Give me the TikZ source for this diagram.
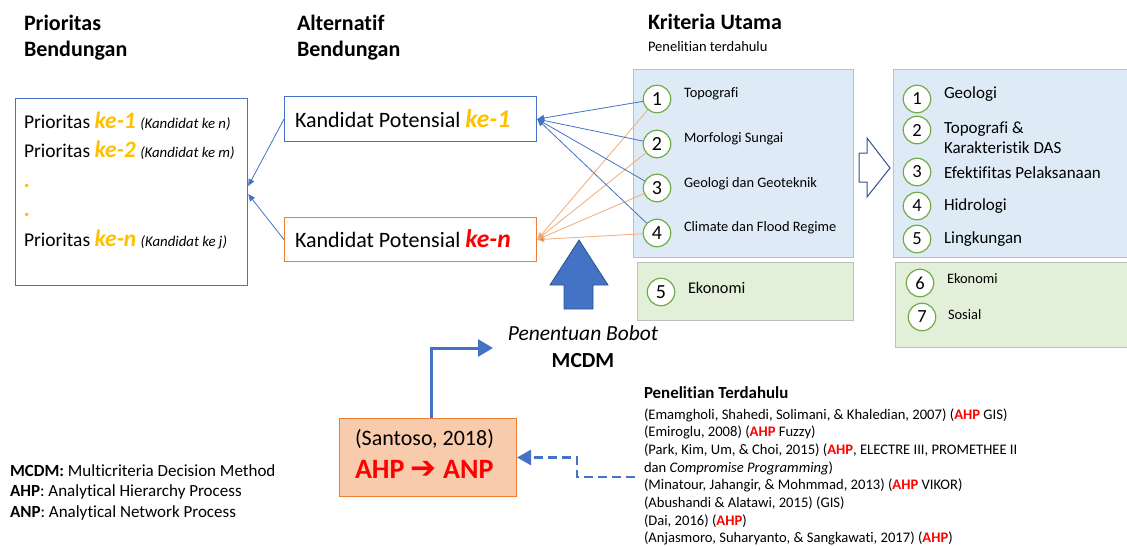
\documentclass[tikz,border=0pt]{standalone}
\usepackage{fontspec}
\setmainfont{Carlito}[Ligatures={NoCommon}]
\newfontfamily\dejavu{DejaVu Sans}
\usetikzlibrary{arrows.meta,calc}
\definecolor{cblue}{HTML}{4472C4}
\definecolor{cdblue}{HTML}{2F528F}
\definecolor{corange}{HTML}{ED7D31}
\definecolor{clorange}{HTML}{F4B183}
\definecolor{cyel}{HTML}{FFC000}
\definecolor{cred}{HTML}{FF0000}
\definecolor{cgreen}{HTML}{70AD47}
\definecolor{cgray}{HTML}{BFBFBF}
\definecolor{cbfill}{HTML}{DEEBF7}
\definecolor{cgfill}{HTML}{E2F0D9}
\definecolor{cpeach}{HTML}{F8CBAD}
\newcommand{\fs}[1]{\fontsize{#1}{#1}\selectfont}
\newcommand{\kyel}[1]{{\fs{23.5}\bfseries\itshape\color{cyel}#1}}
\newcommand{\kand}[1]{{\fs{14.8}\itshape #1}}
\newcommand{\ahp}{{\color{cred}\bfseries AHP}}
\begin{document}
\begin{tikzpicture}[x=1pt,y=-1pt,
  txt/.style={anchor=base west, inner sep=0, outer sep=0},
  hdr/.style={txt, font=\fs{22}\bfseries},
  boxline/.style={txt, font=\fs{19.5}},
  crit/.style={txt, font=\fs{14.4}},
  critb/.style={txt, font=\fs{17}},
  ref/.style={txt, font=\fs{14.6}},
  leg/.style={txt, font=\fs{17}},
  plainbox/.style={draw, inner sep=0, anchor=north west},
  circ/.style={circle, draw=cgreen, line width=1.2, fill=white, minimum size=27.5, inner sep=0, font=\fs{20}},
  circs/.style={circ, font=\fs{18.5}},
  thinb/.style={draw=cblue, line width=0.8, -{Triangle[length=7,width=6]}},
  thino/.style={draw=clorange, line width=0.9, -{Triangle[length=7,width=6]}, arrows={[fill=corange]}},
]
\useasboundingbox (0,0) rectangle (1127,546);

% headers
\node[hdr] (h1a) at (24,30) {Prioritas};
\node[hdr] (h1b) at (24,56.5) {Bendungan};
\node[hdr] (h2a) at (297,30) {Alternatif};
\node[hdr] (h2b) at (297,56.5) {Bendungan};
\node[hdr] (h3a) at (648,29) {Kriteria Utama};
\node[txt, font=\fs{14.5}] (h3b) at (648,51) {Penelitian terdahulu};

% left box
\node[plainbox, draw=cblue, line width=1.2, minimum width=232, minimum height=187] (lb) at (15,98) {};
\node[boxline] (p1) at (24,128) {Prioritas \kyel{ke-1} \kand{(Kandidat ke n)}};
\node[boxline] (p2) at (24,157.5) {Prioritas \kyel{ke-2} \kand{(Kandidat ke m)}};
\node[boxline] (p3) at (24,187) {\kyel{.}};
\node[boxline] (p4) at (24,216.5) {\kyel{.}};
\node[boxline] (p5) at (24,246) {Prioritas \kyel{ke-n} \kand{(Kandidat ke j)}};

% kandidat boxes
\node[plainbox, draw=cblue, line width=1.2, minimum width=252, minimum height=45] (k1) at (284,96) {};
\node[plainbox, draw=corange, line width=1.2, minimum width=252, minimum height=44] (k2) at (284,217) {};
\node[txt, font=\fs{22}] (k1t) at (295,127) {Kandidat Potensial {\fs{25.5}\bfseries\itshape\color{cyel}ke-1}};
\node[txt, font=\fs{22}] (k2t) at (295,247) {Kandidat Potensial {\fs{25.5}\bfseries\itshape\color{cred}ke-n}};

% criteria box
\node[plainbox, draw=cgray, fill=cbfill, line width=1, minimum width=220, minimum height=188] (cb) at (633,69) {};
\node[plainbox, draw=cgray, fill=cgfill, line width=1, minimum width=216, minimum height=58] (eb) at (637,262) {};
\node[circ] (c1) at (657,99) {1};
\node[circ] (c2) at (657,144) {2};
\node[circ] (c3) at (657,188) {3};
\node[circ] (c4) at (657,233) {4};
\node[circ] (c5) at (661,292) {5};
\node[crit] (l1) at (684,97) {Topografi};
\node[crit] (l2) at (684,142) {Morfologi Sungai};
\node[crit] (l3) at (684,187) {Geologi dan Geoteknik};
\node[crit] (l4) at (684,231) {Climate dan Flood Regime};
\node[txt, font=\fs{16.3}] (l5) at (688,293) {Ekonomi};

% connectors criteria -> kandidat
\foreach \c in {c1,c2,c3,c4} {
  \draw[thinb] (\c) -- (k1.east);
  \draw[thino] (\c) -- (k2.east);
}
% kandidat -> left box
\draw[thinb] (k1.west) -- ($(lb.east)+(0,-6)$);
\draw[thinb] (k2.west) -- ($(lb.east)+(0,2)$);

% big up arrow
\draw[fill=cblue, draw=cdblue, line width=0.8] (564,309) -- (564,285) -- (550,285) -- (579,240) -- (608,285) -- (593,285) -- (593,309) -- cycle;

% hollow right arrow
\draw[fill=white, draw=cdblue, line width=1] (859,153) -- (867,153) -- (867,138) -- (890,168) -- (867,197) -- (867,182) -- (859,182) -- cycle;

% right criteria box
\node[plainbox, draw=cgray, fill=cbfill, line width=1, minimum width=245, minimum height=188] (rb) at (893,69) {};
\node[plainbox, draw=cgray, fill=cgfill, line width=1, minimum width=245, minimum height=85] (rg) at (895,262) {};
\node[circs] (d1) at (917,99) {1};
\node[circs] (d2) at (917,130) {2};
\node[circs] (d3) at (917,172) {3};
\node[circs] (d4) at (917,206) {4};
\node[circs] (d5) at (917,239) {5};
\node[circs] (d6) at (920,283) {6};
\node[circs] (d7) at (922,317) {7};
\node[critb] (m1) at (944,98) {Geologi};
\node[critb] (m2a) at (944,133) {Topografi \&};
\node[critb] (m2b) at (944,153) {Karakteristik DAS};
\node[critb] (m3) at (944,178) {Efektifitas Pelaksanaan};
\node[critb] (m4) at (944,210) {Hidrologi};
\node[critb] (m5) at (944,243) {Lingkungan};
\node[crit] (m6) at (947,283) {Ekonomi};
\node[crit] (m7) at (948,319) {Sosial};

% Penentuan Bobot
\node[anchor=base, inner sep=0, font=\fs{21.5}\itshape] (pb) at (583,340) {Penentuan Bobot};
\node[anchor=base, inner sep=0, font=\fs{21.5}\bfseries] (mc) at (583,367) {MCDM};

% AHP box
\node[plainbox, draw=corange, fill=cpeach, line width=1, minimum width=177, minimum height=78] (ab) at (339,418) {};
\node[txt, font=\fs{22}] (s1) at (355,445) {(Santoso, 2018)};
\node[txt, font=\fs{28}\bfseries, text=cred] (s2) at (355,478) {AHP {\dejavu\fs{31}\bfseries ➔} ANP};

\coordinate (mtip) at (493,348);
\draw[cblue, line width=3, -{Triangle[length=15,width=17]}] ($(ab.north)+(3.5,0)$) |- (mtip);

\coordinate (dstart) at (635,477);
\draw[cblue, line width=2.5, dash pattern=on 9 off 5, -{Triangle[length=14,width=15]}] (dstart) -- ++(-58,0) |- (ab.east);

% references
\node[txt, font=\fs{16.9}\bfseries] (rt) at (644,398) {Penelitian Terdahulu};
\node[ref] (r1) at (644,419) {(Emamgholi, Shahedi, Solimani, \& Khaledian, 2007) (\ahp{} GIS)};
\node[ref] (r2) at (644,436.7) {(Emiroglu, 2008) (\ahp{} Fuzzy)};
\node[ref] (r3) at (644,454.4) {(Park, Kim, Um, \& Choi, 2015) (\ahp, ELECTRE III, PROMETHEE II};
\node[ref] (r4) at (644,472.1) {dan \textit{Compromise Programming})};
\node[ref] (r5) at (644,489.8) {(Minatour, Jahangir, \& Mohmmad, 2013) (\ahp{} VIKOR)};
\node[ref] (r6) at (644,507.5) {(Abushandi \& Alatawi, 2015) (GIS)};
\node[ref] (r7) at (644,525.2) {(Dai, 2016) (\ahp)};
\node[ref] (r8) at (644,542.9) {(Anjasmoro, Suharyanto, \& Sangkawati, 2017) (\ahp)};

% legend
\node[leg] (g1) at (10,476) {\textbf{MCDM:} Multicriteria Decision Method};
\node[leg] (g2) at (10,496.5) {\textbf{AHP}: Analytical Hierarchy Process};
\node[leg] (g3) at (10,517) {\textbf{ANP}: Analytical Network Process};
\end{tikzpicture}
\end{document}
